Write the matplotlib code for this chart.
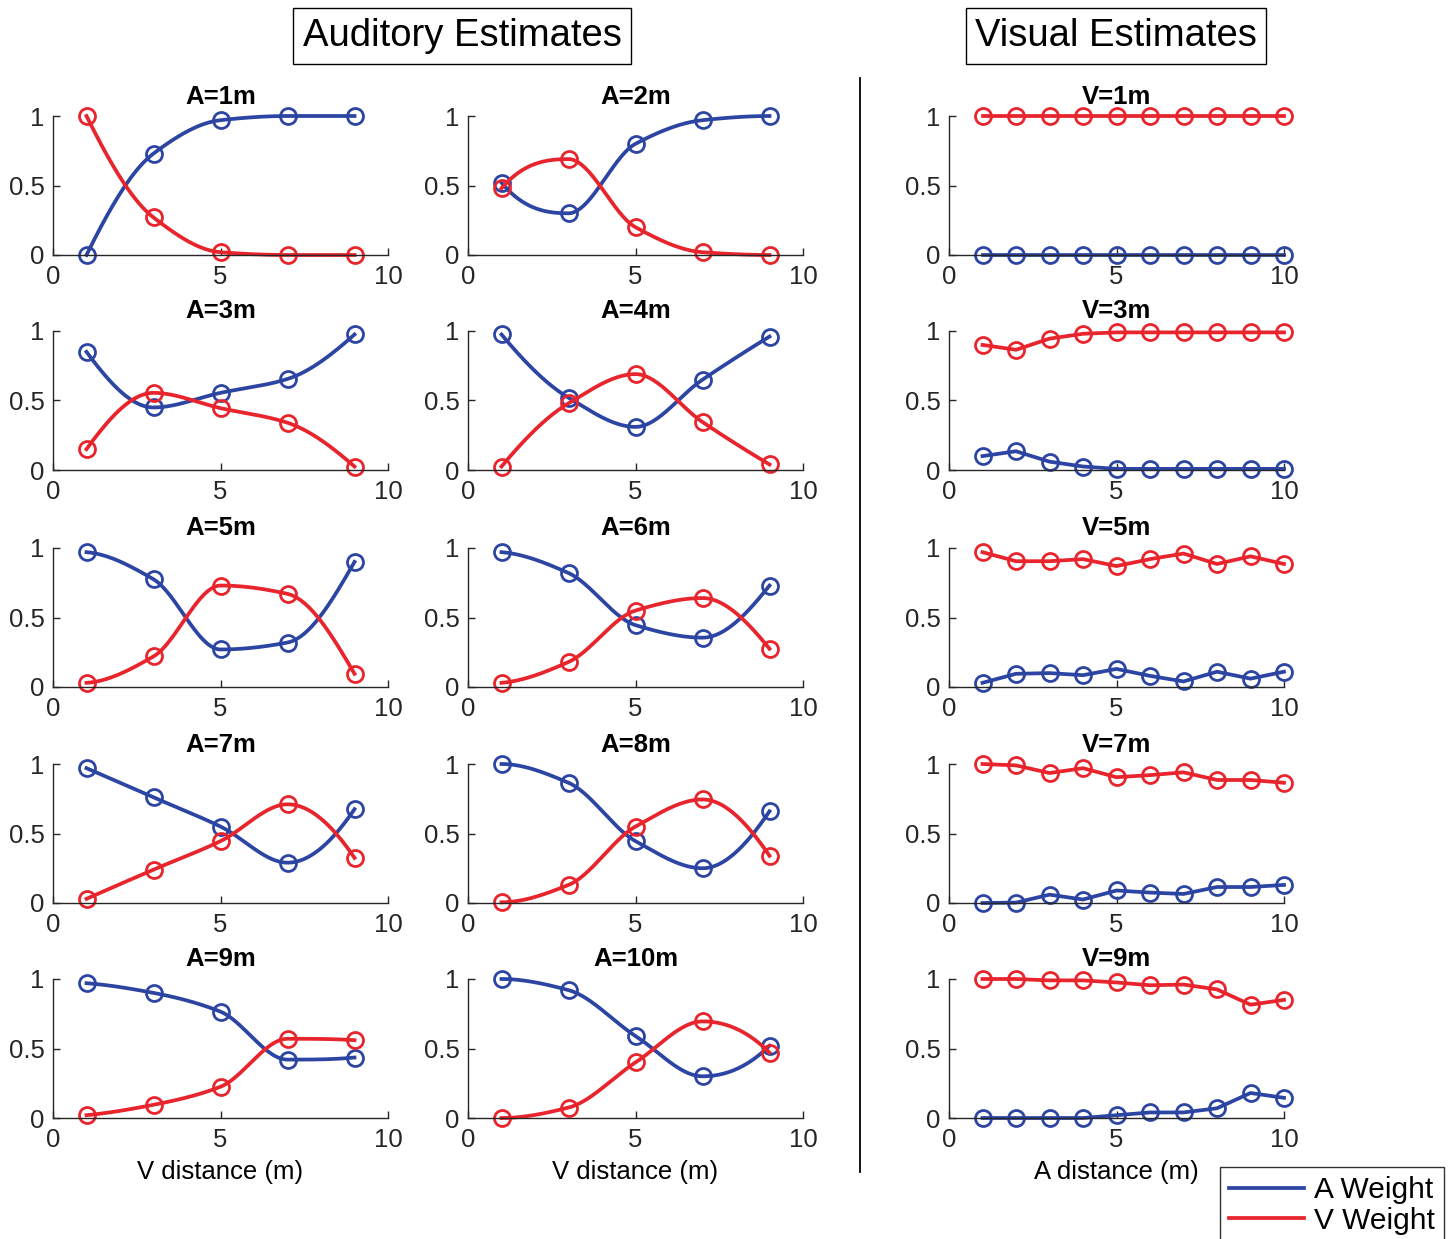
import numpy as np
import matplotlib.pyplot as plt
from matplotlib.lines import Line2D

plt.rcParams['font.family'] = ['Liberation Sans', 'DejaVu Sans']

BLUE = '#2c45a3'
RED = '#e8242c'
AX_GREY = '#262626'

# auditory estimates: weights against V distance, one panel per A distance
aud_x = [1, 3, 5, 7, 9]
aud_titles = ['A=1m', 'A=2m', 'A=3m', 'A=4m', 'A=5m',
              'A=6m', 'A=7m', 'A=8m', 'A=9m', 'A=10m']
aud_a_weight = [
    [0.00, 0.73, 0.97, 1.00, 1.00],
    [0.52, 0.30, 0.80, 0.97, 1.00],
    [0.85, 0.45, 0.555, 0.655, 0.975],
    [0.975, 0.52, 0.31, 0.65, 0.96],
    [0.97, 0.775, 0.27, 0.32, 0.90],
    [0.97, 0.82, 0.445, 0.355, 0.73],
    [0.97, 0.76, 0.55, 0.29, 0.675],
    [1.00, 0.865, 0.445, 0.25, 0.66],
    [0.97, 0.90, 0.765, 0.42, 0.435],
    [1.00, 0.92, 0.59, 0.30, 0.52],
]
aud_v_weight = [
    [1.00, 0.27, 0.02, 0.00, 0.00],
    [0.48, 0.69, 0.20, 0.02, 0.00],
    [0.15, 0.555, 0.445, 0.34, 0.025],
    [0.025, 0.48, 0.69, 0.345, 0.04],
    [0.03, 0.22, 0.73, 0.67, 0.095],
    [0.03, 0.18, 0.55, 0.64, 0.275],
    [0.03, 0.24, 0.445, 0.71, 0.325],
    [0.005, 0.13, 0.55, 0.745, 0.34],
    [0.02, 0.095, 0.225, 0.57, 0.56],
    [0.00, 0.075, 0.40, 0.695, 0.47],
]

# visual estimates: weights against A distance, one panel per V distance
vis_x = list(range(1, 11))
vis_titles = ['V=1m', 'V=3m', 'V=5m', 'V=7m', 'V=9m']
vis_a_weight = [
    [0.00, 0.00, 0.00, 0.00, 0.00, 0.00, 0.00, 0.00, 0.00, 0.00],
    [0.10, 0.135, 0.06, 0.025, 0.008, 0.008, 0.008, 0.008, 0.008, 0.008],
    [0.03, 0.095, 0.10, 0.085, 0.13, 0.08, 0.04, 0.11, 0.06, 0.11],
    [0.00, 0.003, 0.06, 0.025, 0.09, 0.075, 0.065, 0.115, 0.115, 0.13],
    [0.00, 0.00, 0.00, 0.00, 0.02, 0.04, 0.04, 0.07, 0.18, 0.145],
]
vis_v_weight = [
    [1.00, 1.00, 1.00, 1.00, 1.00, 1.00, 1.00, 1.00, 1.00, 1.00],
    [0.90, 0.865, 0.945, 0.98, 0.99, 0.99, 0.99, 0.99, 0.99, 0.99],
    [0.97, 0.905, 0.905, 0.92, 0.87, 0.92, 0.96, 0.885, 0.94, 0.885],
    [1.00, 0.99, 0.935, 0.97, 0.905, 0.92, 0.94, 0.885, 0.885, 0.865],
    [1.00, 1.00, 0.99, 0.99, 0.975, 0.955, 0.96, 0.925, 0.815, 0.85],
]


def _end_slope(h0, h1, d0, d1):
    s = ((2 * h0 + h1) * d0 - h0 * d1) / (h0 + h1)
    if np.sign(s) != np.sign(d0):
        s = 0.0
    elif np.sign(d0) != np.sign(d1) and abs(s) > abs(3 * d0):
        s = 3 * d0
    return s


def pchip(x, y, xq):
    """Shape preserving piecewise cubic interpolation (Fritsch-Carlson)."""
    x = np.asarray(x, float)
    y = np.asarray(y, float)
    h = np.diff(x)
    delta = np.diff(y) / h
    n = len(x)
    d = np.zeros(n)
    for k in range(1, n - 1):
        if delta[k - 1] * delta[k] > 0:
            w1 = 2 * h[k] + h[k - 1]
            w2 = h[k] + 2 * h[k - 1]
            d[k] = (w1 + w2) / (w1 / delta[k - 1] + w2 / delta[k])
    d[0] = _end_slope(h[0], h[1], delta[0], delta[1])
    d[-1] = _end_slope(h[-1], h[-2], delta[-1], delta[-2])

    idx = np.clip(np.searchsorted(x, xq) - 1, 0, n - 2)
    t = (xq - x[idx]) / h[idx]
    h00 = 2 * t**3 - 3 * t**2 + 1
    h10 = t**3 - 2 * t**2 + t
    h01 = -2 * t**3 + 3 * t**2
    h11 = t**3 - t**2
    return (h00 * y[idx] + h10 * h[idx] * d[idx]
            + h01 * y[idx + 1] + h11 * h[idx] * d[idx + 1])


def style_axes(ax, title):
    ax.set_xlim(0, 10)
    ax.set_ylim(0, 1)
    ax.set_xticks([0, 5, 10])
    ax.set_yticks([0, 0.5, 1])
    ax.set_yticklabels(['0', '0.5', '1'])
    for side in ['top', 'right']:
        ax.spines[side].set_visible(False)
    for side in ['left', 'bottom']:
        ax.spines[side].set_color(AX_GREY)
        ax.spines[side].set_linewidth(1.0)
    ax.tick_params(direction='in', length=5, width=1.0, colors=AX_GREY,
                   labelsize=18.5)
    ax.tick_params(axis='x', pad=7)
    ax.tick_params(axis='y', pad=6)
    ax.set_title(title, fontsize=18.5, fontweight='bold', pad=9)


fig = plt.figure(figsize=(14.55, 12.39), dpi=100)

W, H = 1455.0, 1239.0
col_left = [53, 468, 949]
row_top = [116, 331, 548, 764, 979]
ax_w, ax_h = 335, 139

line_kw = dict(lw=2.7, clip_on=False)
mark_kw = dict(ls='none', marker='o', ms=11.5, mfc='none', mew=2.0,
               clip_on=False)

xq = np.linspace(aud_x[0], aud_x[-1], 200)

for i, title in enumerate(aud_titles):
    r, c = divmod(i, 2)
    ax = fig.add_axes([col_left[c] / W, 1 - (row_top[r] + ax_h) / H,
                       ax_w / W, ax_h / H])
    for vals, col in [(aud_a_weight[i], BLUE), (aud_v_weight[i], RED)]:
        ax.plot(xq, pchip(aud_x, vals, xq), color=col, **line_kw)
        ax.plot(aud_x, vals, color=col, **mark_kw)
    style_axes(ax, title)
    if r == 4:
        ax.set_xlabel('V distance (m)', fontsize=18.5, labelpad=6)

for r, title in enumerate(vis_titles):
    ax = fig.add_axes([col_left[2] / W, 1 - (row_top[r] + ax_h) / H,
                       ax_w / W, ax_h / H])
    ax.plot(vis_x, vis_a_weight[r], color=BLUE, **line_kw)
    ax.plot(vis_x, vis_a_weight[r], color=BLUE, **mark_kw)
    ax.plot(vis_x, vis_v_weight[r], color=RED, **line_kw)
    ax.plot(vis_x, vis_v_weight[r], color=RED, **mark_kw)
    style_axes(ax, title)
    if r == 4:
        ax.set_xlabel('A distance (m)', fontsize=18.5, labelpad=6)

# section headers
box = dict(boxstyle='square,pad=0.25', fc='white', ec='black', lw=1.0)
fig.text(462 / W, 1 - 36 / H, 'Auditory Estimates', fontsize=27.5,
         ha='center', va='center', bbox=box)
fig.text(1116 / W, 1 - 36 / H, 'Visual Estimates', fontsize=27.5,
         ha='center', va='center', bbox=box)

# divider between the two groups
fig.add_artist(Line2D([860 / W, 860 / W], [1 - 78 / H, 1 - 1172 / H],
                      color='black', lw=1.3))

handles = [Line2D([], [], color=BLUE, lw=2.7),
           Line2D([], [], color=RED, lw=2.7)]
leg = fig.legend(handles, ['A Weight', 'V Weight'], loc='upper right',
                 bbox_to_anchor=(1444 / W, 1 - 1167 / H), fontsize=21.5,
                 frameon=True, fancybox=False, edgecolor='black',
                 handlelength=2.5, handletextpad=0.35, labelspacing=0.1,
                 borderpad=0.3, borderaxespad=0)
leg.get_frame().set_linewidth(1.0)

fig.savefig('out.png', dpi=100)
